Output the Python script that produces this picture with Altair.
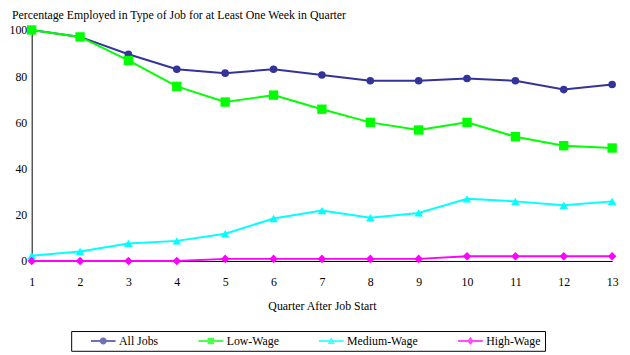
import altair as alt
import pandas as pd

quarters = list(range(1, 14))
series_names = ["All Jobs", "Low-Wage", "Medium-Wage", "High-Wage"]
all_jobs = [100, 97, 89.5, 83, 81.3, 83, 80.5, 78, 78, 79, 78, 74.2, 76.4]
low_wage = [100, 97, 86.8, 75.6, 68.8, 71.8, 65.7, 60, 56.7, 60, 53.8, 49.9, 48.9]
medium_wage = [2.3, 4.1, 7.6, 8.7, 11.8, 18.4, 21.8, 18.7, 20.8, 26.9, 25.8, 24.1, 25.8]
high_wage = [0, 0, 0, 0, 0.9, 0.9, 0.9, 0.9, 0.9, 2, 2, 2, 2]
y_ticks = [0, 20, 40, 60, 80, 100]

colors = ["#333399", "#00FF00", "#00FFFF", "#FF00FF"]
point_shapes = ["circle", "square", "triangle-up", "diamond"]
point_sizes = [60, 90, 75, 75]
# legend symbols (filled): a 25px bar with a small marker, units = sqrt(size)/2 = 5px
legend_paths = [
    "M-2.5,-0.2H2.5V0.2H-2.5ZM-0.7,0A0.7,0.7,0,1,1,0.7,0A0.7,0.7,0,1,1,-0.7,0Z",
    "M-2.5,-0.2H2.5V0.2H-2.5ZM-0.65,-0.65H0.65V0.65H-0.65Z",
    "M-2.5,-0.2H2.5V0.2H-2.5ZM0,-0.8L0.75,0.6H-0.75Z",
    "M-2.5,-0.2H2.5V0.2H-2.5ZM0,-0.85L0.65,0L0,0.85L-0.65,0Z",
]

rows = []
for name, vals in zip(series_names, [all_jobs, low_wage, medium_wage, high_wage]):
    for q, v in zip(quarters, vals):
        rows.append({"quarter": q, "pct": v, "series": name})
df = pd.DataFrame(rows)

FONT = "Liberation Serif"
NBSP = "\u00a0"

x = alt.X(
    "quarter:Q",
    scale=alt.Scale(domain=[1, 13], nice=False, zero=False),
    axis=alt.Axis(
        values=quarters, format="d", title="Quarter After Job Start",
        ticks=False, grid=False, labelPadding=16, titlePadding=13,
        domainColor="black", labelFont=FONT, titleFont=FONT,
        labelFontSize=12, titleFontSize=12, titleFontWeight="normal",
        labelColor="black", titleColor="black", labelFlush=False,
    ),
)
y = alt.Y(
    "pct:Q",
    scale=alt.Scale(domain=[0, 100], nice=False),
    axis=alt.Axis(
        values=y_ticks, title=None, ticks=False, grid=False, labelPadding=5,
        domainColor="black", labelFont=FONT, labelFontSize=12,
        labelColor="black", labelFlush=False,
    ),
)

last_label = series_names[-1]
legend_layer = alt.Chart(df).transform_filter("false").mark_point(filled=True, size=100).encode(
    x=x, y=y,
    color=alt.Color(
        "series:N", scale=alt.Scale(domain=series_names, range=colors),
        legend=alt.Legend(
            title=None, orient="none", legendX=40, legendY=305,
            direction="horizontal", padding=4, strokeColor="black",
            symbolSize=100, symbolOffset=22.5, labelOffset=10, columnPadding=24,
            labelFont=FONT, labelFontSize=12, labelColor="black",
            labelExpr=f"datum.label == '{last_label}' ? datum.label + '{NBSP * 12}' : datum.label",
        ),
    ),
    shape=alt.Shape("series:N", scale=alt.Scale(domain=series_names, range=legend_paths)),
)

line_layers = []
point_layers = []
for name, col, shp, sz in zip(series_names, colors, point_shapes, point_sizes):
    base = alt.Chart(df).transform_filter(alt.datum.series == name)
    line_layers.append(base.mark_line(strokeWidth=2, color=col).encode(x=x, y=y))
    point_layers.append(
        base.mark_point(filled=True, opacity=1, shape=shp, size=sz, color=col).encode(x=x, y=y)
    )

chart = (
    alt.layer(*line_layers, *point_layers, legend_layer)
    .properties(
        width=588, height=234,
        autosize=alt.AutoSizeParams(type="none"),
        padding={"left": 24, "top": 20, "right": 10, "bottom": 93},
        background="white",
        title=alt.Title(
            "Percentage Employed in Type of Job for at Least One Week in Quarter",
            anchor="start", font=FONT, fontSize=12, fontWeight="normal",
            color="black", offset=2, dx=3,
        ),
    )
    .configure_view(stroke=None)
)

chart.save("out.html", embed_options={"renderer": "svg", "actions": False})
